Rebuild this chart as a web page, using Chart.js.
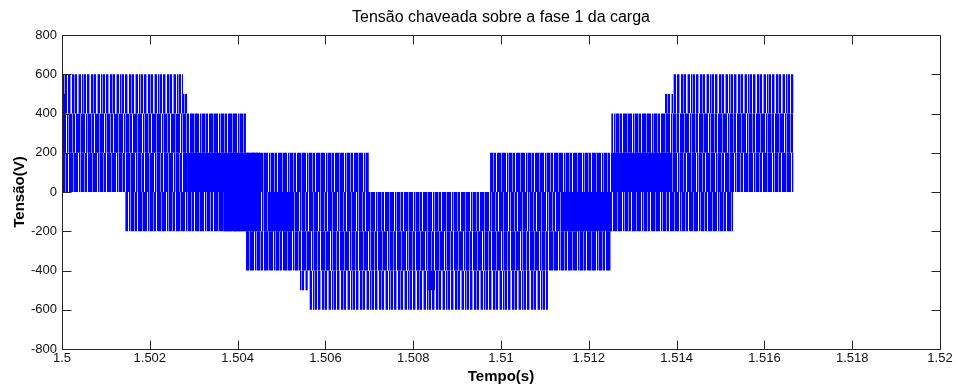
<!DOCTYPE html>
<html>
<head>
<meta charset="utf-8">
<title>Tensão chaveada sobre a fase 1 da carga</title>
<script src="https://cdn.jsdelivr.net/npm/chart.js@4.4.0/dist/chart.umd.min.js"></script>
<style>
  html, body { margin: 0; padding: 0; background: #fff; }
  canvas { display: block; }
</style>
</head>
<body>
<canvas id="grafico" width="957" height="388"></canvas>
<script>
// Faixas de comutação (tempo em s, tensão em V)
// cada faixa: entre faixaBaixo e faixaAlto, de faixaInicio até faixaFim
const faixaInicio = [1.5, 1.5, 1.5, 1.50144, 1.50419, 1.50563, 1.50975, 1.51251, 1.51392,
                     1.5, 1.50269, 1.50542, 1.50834, 1.51373,
                     1.50285, 1.50367, 1.50469, 1.51139, 1.51255];
const faixaFim    = [1.50276, 1.50419, 1.50699, 1.51529, 1.51251, 1.51107, 1.51667, 1.51667, 1.51667,
                     1.50007, 1.50287, 1.5056, 1.5085, 1.51392,
                     1.50451, 1.50446, 1.50524, 1.51253, 1.5139];
const faixaBaixo  = [400, 200, 0, -200, -400, -600, 0, 200, 400,
                     200, 400, -500, -500, 400,
                     0, -200, -200, -200, 0];
const faixaAlto   = [600, 400, 200, 0, -200, -400, 200, 400, 600,
                     500, 500, -400, -400, 500,
                     200, 0, 0, 0, 200];
// densidade aparente das linhas de comutação em cada faixa
const faixaTipo   = ['ralo', 'denso', 'denso', 'denso', 'denso', 'ralo', 'denso', 'denso', 'ralo',
                     'cheio', 'ralo', 'ralo', 'cheio', 'ralo',
                     'cheio', 'cheio', 'cheio', 'cheio', 'cheio'];

// eixos
const xTicks = [1.5, 1.502, 1.504, 1.506, 1.508, 1.51, 1.512, 1.514, 1.516, 1.518, 1.52];
const xTickLabels = ['1.5', '1.502', '1.504', '1.506', '1.508', '1.51', '1.512', '1.514', '1.516', '1.518', '1.52'];
const yTicks = [-800, -600, -400, -200, 0, 200, 400, 600, 800];
const yTickLabels = ['-800', '-600', '-400', '-200', '0', '200', '400', '600', '800'];

const fonte = "'Liberation Sans', Arial, sans-serif";
const azul = '#0000ff';

// textura de linhas verticais (imita o PWM denso)
const cores = { B: azul, L: '#8c8cff', W: '#f2f2ff' };
const texturas = {
    denso: 'BBBLBBWBBBBLBBBBWBL',
    ralo: 'BWLBBWBLBBWBBLWBBLB'
};

function criarPadrao(seq, desloc) {
    const c = document.createElement('canvas');
    c.width = seq.length;
    c.height = 4;
    const g = c.getContext('2d');
    for (let i = 0; i < seq.length; i++) {
        g.fillStyle = cores[seq[(i + desloc) % seq.length]];
        g.fillRect(i, 0, 1, 4);
    }
    return g.createPattern(c, 'repeat');
}

const datasets = faixaInicio.map(function(t0, i) {
    const cheio = faixaTipo[i] === 'cheio';
    return {
        data: [{ x: t0, y: faixaAlto[i] }, { x: faixaFim[i], y: faixaAlto[i] }],
        fill: { value: faixaBaixo[i] },
        backgroundColor: cheio ? azul : criarPadrao(texturas[faixaTipo[i]], (i * 7) % 19),
        borderWidth: 0,
        pointRadius: 0,
        tension: 0,
        order: cheio ? 0 : 1
    };
});

// moldura e marcas internas estilo MATLAB
const moldura = {
    id: 'moldura',
    afterDatasetsDraw(chart) {
        const { ctx, chartArea: a, scales } = chart;
        const tam = 9;
        const L = Math.round(a.left) + 0.5, R = Math.round(a.right) + 0.5;
        const T = Math.round(a.top) + 0.5, B = Math.round(a.bottom) + 0.5;
        ctx.save();
        ctx.strokeStyle = '#262626';
        ctx.lineWidth = 1;
        ctx.beginPath();
        ctx.rect(L, T, R - L, B - T);
        xTicks.forEach(function(v) {
            const px = Math.round(scales.x.getPixelForValue(v)) + 0.5;
            ctx.moveTo(px, B); ctx.lineTo(px, B - tam);
            ctx.moveTo(px, T); ctx.lineTo(px, T + tam);
        });
        yTicks.forEach(function(v) {
            const py = Math.round(scales.y.getPixelForValue(v)) + 0.5;
            ctx.moveTo(L, py); ctx.lineTo(L + tam, py);
            ctx.moveTo(R, py); ctx.lineTo(R - tam, py);
        });
        ctx.stroke();
        ctx.restore();
    }
};

new Chart(document.getElementById('grafico').getContext('2d'), {
    type: 'line',
    data: { datasets: datasets },
    options: {
        responsive: false,
        animation: false,
        events: [],
        layout: { padding: { left: 0, right: 17, top: 0, bottom: 0 } },
        plugins: {
            legend: { display: false },
            tooltip: { enabled: false },
            title: {
                display: true,
                text: 'Tensão chaveada sobre a fase 1 da carga',
                color: '#000',
                fullSize: false,
                font: { family: fonte, size: 16, weight: 'normal' },
                padding: { top: 8, bottom: 7.8 }
            }
        },
        scales: {
            x: {
                type: 'linear',
                min: 1.5,
                max: 1.52,
                afterBuildTicks: function(s) { s.ticks = xTicks.map(function(v) { return { value: v }; }); },
                afterFit: function(s) { s.height = 39; },
                grid: { display: false, drawTicks: false, tickLength: 0 },
                border: { display: false },
                ticks: {
                    autoSkip: false,
                    maxRotation: 0,
                    padding: 2,
                    color: '#111',
                    font: { family: fonte, size: 13 },
                    callback: function(v, i) { return xTickLabels[i]; }
                },
                title: {
                    display: true,
                    text: 'Tempo(s)',
                    color: '#000',
                    font: { family: fonte, size: 15, weight: 'bold' },
                    padding: { top: 0, bottom: 2 }
                }
            },
            y: {
                type: 'linear',
                min: -800,
                max: 800,
                afterBuildTicks: function(s) { s.ticks = yTicks.map(function(v) { return { value: v }; }); },
                afterFit: function(s) { s.width = 62; },
                grid: { display: false, drawTicks: false, tickLength: 0 },
                border: { display: false },
                ticks: {
                    padding: 5,
                    color: '#111',
                    font: { family: fonte, size: 13 },
                    callback: function(v, i) { return yTickLabels[i]; }
                },
                title: {
                    display: true,
                    text: 'Tensão(V)',
                    color: '#000',
                    font: { family: fonte, size: 15, weight: 'bold' },
                    padding: { top: 10.5, bottom: 0 }
                }
            }
        }
    },
    plugins: [moldura]
});
</script>
</body>
</html>
